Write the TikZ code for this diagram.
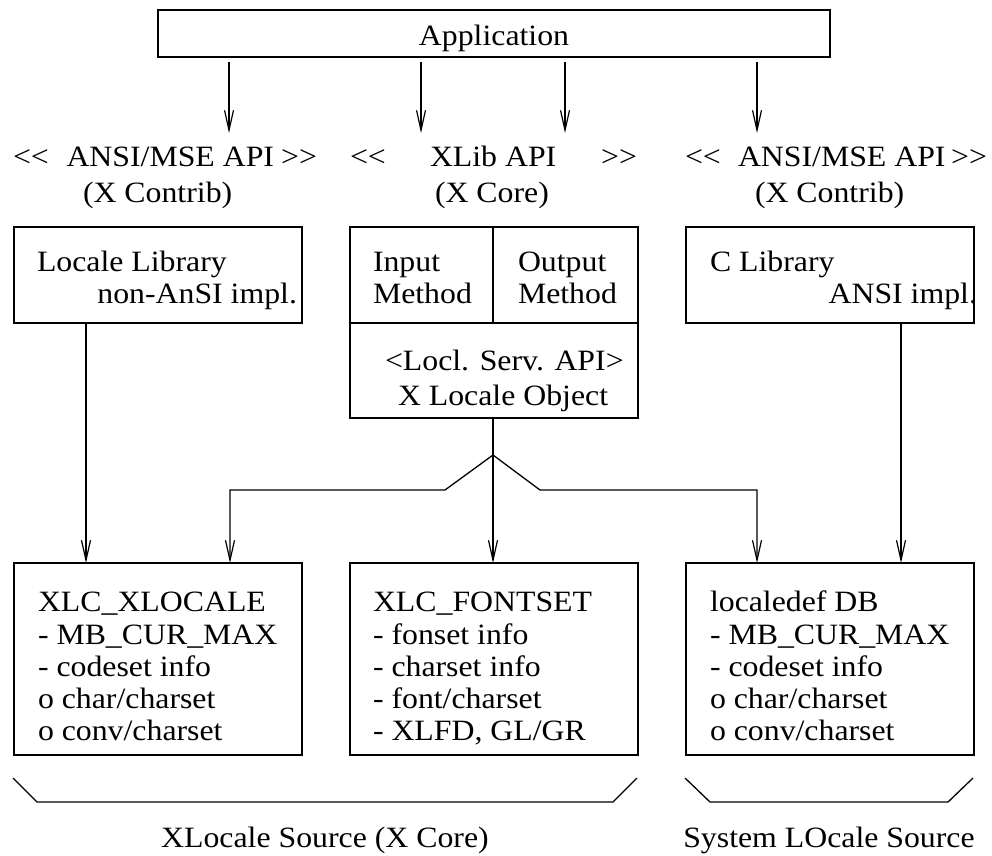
\documentclass[tikz,border=0pt]{standalone}
\usepackage{fontspec}
\setmainfont[FakeStretch=1.078]{Liberation Serif}
\usetikzlibrary{arrows.meta}
\newcommand{\ltlt}{<\kern0pt<}
\newcommand{\gtgt}{>\kern0pt>}
\begin{document}
\begin{tikzpicture}[x=1pt,y=-1pt,
  every node/.style={inner sep=0pt, outer sep=0pt},
  lbl/.style={font=\fontsize{29.5}{35}\selectfont, anchor=base west},
  lble/.style={lbl, anchor=base east},
  lblc/.style={lbl, anchor=base},
  box/.style={draw, line width=1.3pt, rectangle, minimum width=288pt},
  ln/.style={line width=1.3pt},
  arr/.style={line width=1.3pt, -{Straight Barb[length=20pt,width=9pt,line width=1.2pt]}}
]
\useasboundingbox (0,0) rectangle (992,855);

% Application
\node[box, minimum width=672pt, minimum height=47pt] (app) at (494,33.5) {};
\node[lblc] (apptxt) at (494,45) {Application};

% API labels
\node[lbl] (l1a) at (13,166) {\ltlt};
\node[lbl] (l1b) at (66.5,166) {ANSI/MSE API};
\node[lble] (l1c) at (317,166) {\gtgt};
\node[lbl] (l1d) at (83,202) {(X Contrib)};

\node[lbl] (l2a) at (350,166) {\ltlt};
\node[lbl] (l2b) at (430,166) {XLib API};
\node[lble] (l2c) at (637,166) {\gtgt};
\node[lbl] (l2d) at (435,202) {(X Core)};

\node[lbl] (l3a) at (685,166) {\ltlt};
\node[lbl] (l3b) at (738,166) {ANSI/MSE API};
\node[lble] (l3c) at (987,166) {\gtgt};
\node[lbl] (l3d) at (755,202) {(X Contrib)};

% arrows from application
\coordinate (a1t) at (229,62);  \coordinate (a1e) at (229,133);
\coordinate (a2t) at (421,62);  \coordinate (a2e) at (421,133);
\coordinate (a3t) at (565,62);  \coordinate (a3e) at (565,133);
\coordinate (a4t) at (757,62);  \coordinate (a4e) at (757,133);
\draw[arr] (a1t) -- (a1e);
\draw[arr] (a2t) -- (a2e);
\draw[arr] (a3t) -- (a3e);
\draw[arr] (a4t) -- (a4e);

% second row boxes
\node[box, minimum height=96pt] (loclib) at (158,275) {};
\node[lbl] (loclibA) at (37,271) {Locale Library};
\node[lble] (loclibB) at (297,303) {non-AnSI impl.};

\node[box, minimum height=191pt] (xlib) at (494,322.5) {};
\draw[ln] (350,323) -- (638,323);
\draw[ln] (493,227) -- (493,323);
\node[lbl] (inA) at (373,271) {Input};
\node[lbl] (inB) at (373,303) {Method};
\node[lbl] (outA) at (518,271) {Output};
\node[lbl] (outB) at (518,303) {Method};
\node[lbl] (lsA) at (385,370) {<Locl. Serv. API>};
\node[lbl] (lsB) at (398,405) {X Locale Object};

\node[box, minimum height=96pt] (clib) at (830,275) {};
\node[lbl] (clibA) at (710,271) {C Library};
\node[lble] (clibB) at (977,303) {ANSI impl.};

% bottom boxes
\node[box, minimum height=192pt] (xlc) at (158,659) {};
\node[lbl] (xlc1) at (38,611) {XLC\_XLOCALE};
\node[lbl] (xlc2) at (38,644) {- MB\_CUR\_MAX};
\node[lbl] (xlc3) at (38,676) {- codeset info};
\node[lbl] (xlc4) at (38,708) {o char/charset};
\node[lbl] (xlc5) at (38,740) {o conv/charset};

\node[box, minimum height=192pt] (fs) at (494,659) {};
\node[lbl] (fs1) at (373,611) {XLC\_FONTSET};
\node[lbl] (fs2) at (373,644) {- fonset info};
\node[lbl] (fs3) at (373,676) {- charset info};
\node[lbl] (fs4) at (373,708) {- font/charset};
\node[lbl] (fs5) at (373,740) {- XLFD, GL/GR};

\node[box, minimum height=192pt] (ldb) at (830,659) {};
\node[lbl] (ldb1) at (710,611) {localedef DB};
\node[lbl] (ldb2) at (710,644) {- MB\_CUR\_MAX};
\node[lbl] (ldb3) at (710,676) {- codeset info};
\node[lbl] (ldb4) at (710,708) {o char/charset};
\node[lbl] (ldb5) at (710,740) {o conv/charset};

% long arrows
\coordinate (ls) at (86,323);  \coordinate (le) at (86,563);
\coordinate (rs) at (901,323); \coordinate (re) at (901,563);
\draw[arr] (ls) -- (le);
\draw[arr] (rs) -- (re);

% fan out from X Locale Object
\coordinate (j) at (493,455);
\coordinate (jl) at (445,490); \coordinate (jll) at (230,490); \coordinate (jle) at (230,563);
\coordinate (jr) at (540,490); \coordinate (jrr) at (757,490); \coordinate (jre) at (757,563);
\coordinate (jme) at (493,563);
\draw[ln] (xlib.south -| j) -- (j);
\draw[arr] (j) -- (jme);
\draw[arr] (j) -- (jl) -- (jll) -- (jle);
\draw[arr] (j) -- (jr) -- (jrr) -- (jre);

% brackets
\draw[ln] (13,778) -- (37,802) -- (613,802) -- (637,778);
\draw[ln] (685,778) -- (710,802) -- (948,802) -- (973,778);
\node[lblc] (src1) at (325,847) {XLocale Source (X Core)};
\node[lblc] (src2) at (829,847) {System LOcale Source};
\end{tikzpicture}
\end{document}
